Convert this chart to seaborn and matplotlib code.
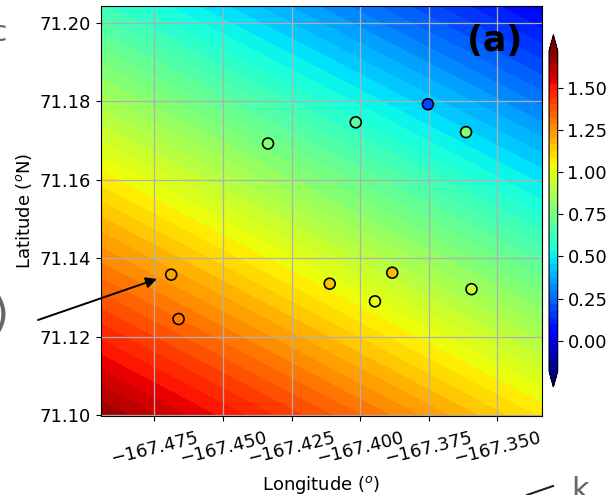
import matplotlib
matplotlib.use("Agg")
import matplotlib.pyplot as plt
import seaborn as sns
import numpy as np
from matplotlib.lines import Line2D

# background field, corner values (rows = latitude)
grid_lon = [-167.4945, -167.3338]
grid_lat = [71.0998, 71.2043]
grid_z = [[1.68, 1.08],
          [0.62, 0.04]]

# station points
lon_pts = [-167.4689, -167.4662, -167.4336, -167.4016, -167.3753,
           -167.3614, -167.4111, -167.3883, -167.3946, -167.3594]
lat_pts = [71.1358, 71.1245, 71.1692, 71.1746, 71.1792,
           71.1721, 71.1335, 71.1363, 71.1290, 71.1321]
val_pts = [1.22, 1.30, 0.78, 0.70, 0.19, 0.78, 1.15, 1.17, 1.02, 0.94]

vmin, vmax = -0.18, 1.72
xticks = [-167.475, -167.450, -167.425, -167.400, -167.375, -167.350]
yticks = [71.10, 71.12, 71.14, 71.16, 71.18, 71.20]
cbar_ticks = [0.00, 0.25, 0.50, 0.75, 1.00, 1.25, 1.50]

fs = 13
jet = plt.get_cmap("jet")

fig = plt.figure(figsize=(6.09, 4.95), dpi=100)
ax = fig.add_axes([0.1658, 0.1596, 0.7237, 0.8289])
cax = fig.add_axes([0.9015, 0.2182, 0.0143, 0.7111])

levels = np.linspace(vmin, vmax, 49)
cf = ax.contourf(grid_lon, grid_lat, grid_z, levels=levels,
                 cmap=jet, extend="both")

sns.scatterplot(
    x=lon_pts,
    y=lat_pts,
    hue=val_pts,
    palette=jet,
    hue_norm=(vmin, vmax),
    s=62,
    edgecolor="k",
    linewidth=1.2,
    legend=False,
    ax=ax,
    zorder=3
)

ax.set_xlim(grid_lon[0], grid_lon[1])
ax.set_ylim(grid_lat[0], grid_lat[1])
ax.grid(True, color="#b0b0b0", linewidth=0.9)

ax.set_xticks(xticks)
ax.set_xticklabels([f"{t:.3f}".replace("-", "\u2212") for t in xticks],
                   rotation=14, fontsize=fs)
ax.tick_params(axis="x", pad=6)
ax.set_yticks(yticks)
ax.set_yticklabels([f"{t:.2f}" for t in yticks], fontsize=fs)
ax.set_xlabel("Longitude ($^o$)", fontsize=fs)
ax.set_ylabel("Latitude ($^o$N)", fontsize=fs)

ax.text(0.955, 0.955, "(a)", transform=ax.transAxes, ha="right", va="top",
        fontsize=25, fontweight="bold")

cb = fig.colorbar(cf, cax=cax, ticks=cbar_ticks)
cb.ax.set_yticklabels([f"{t:.2f}" for t in cbar_ticks], fontsize=fs)

# arrow pointing at the first station
ax.annotate("", xy=(-167.4741, 71.1347), xycoords="data",
            xytext=(38 / 609, 1 - 320 / 495), textcoords="figure fraction",
            arrowprops=dict(arrowstyle="-|>", color="k", lw=1.4,
                            mutation_scale=16, shrinkA=0, shrinkB=0),
            annotation_clip=False)

# fragments of neighbouring panels at the crop edges
fig.text(7 / 609, 1 - 33 / 495, "c", ha="right", va="center",
         fontsize=20, color="#666666")
fig.text(9 / 609, 1 - 315 / 495, ")", ha="right", va="center",
         fontsize=32, color="#666666")
fig.text(571 / 609, 1 - 476 / 495, "k", ha="left", va="top",
         fontsize=22, color="#666666")
fig.add_artist(Line2D([527 / 609, 553 / 609], [0 / 495, 9 / 495],
                      transform=fig.transFigure, color="#222222", lw=1.5))

fig.savefig("out.png", dpi=100)
